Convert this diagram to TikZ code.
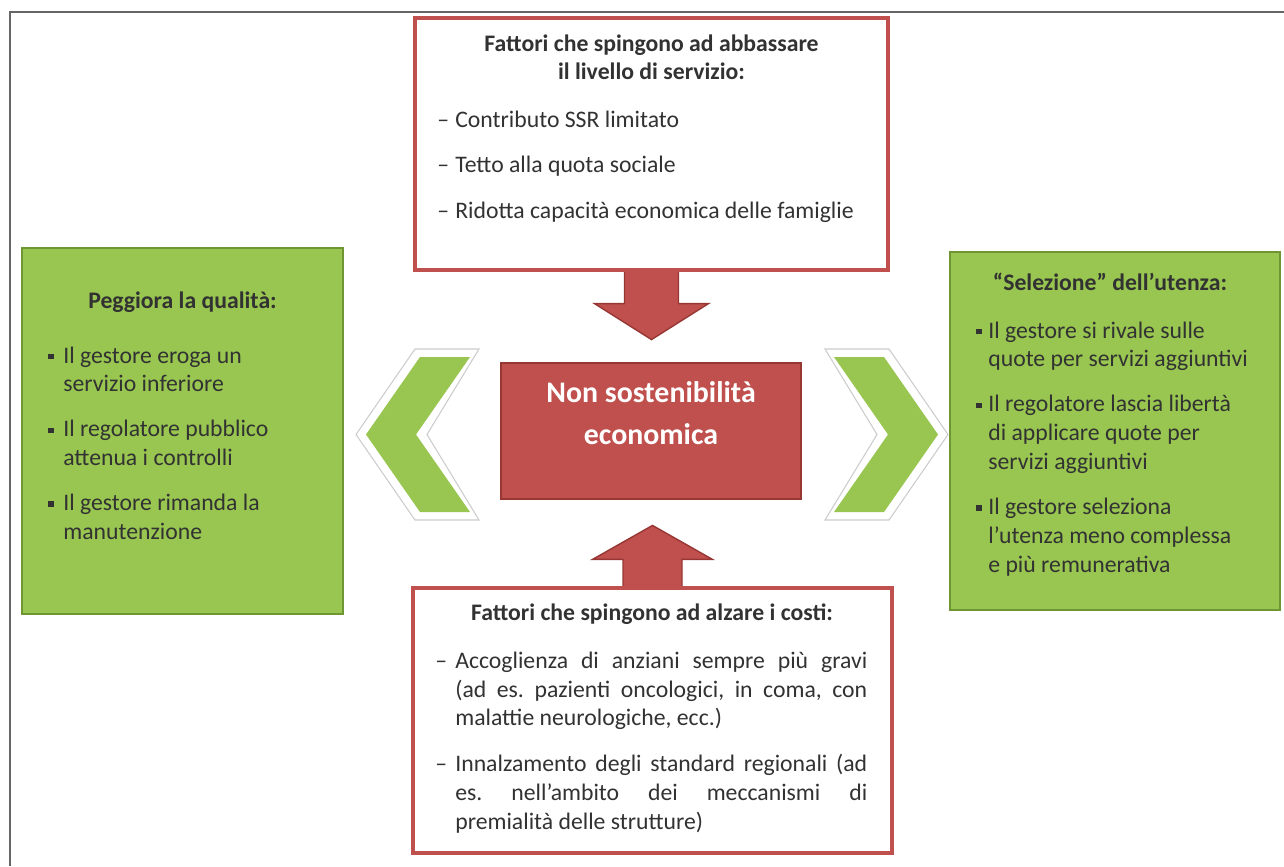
\documentclass[tikz,border=0pt]{standalone}
\usepackage{fontspec}
\setmainfont{Carlito}
\usetikzlibrary{positioning,calc,backgrounds}

\definecolor{rossobox}{RGB}{192,80,77}
\definecolor{rossobordo}{RGB}{150,55,52}
\definecolor{verdebox}{RGB}{152,198,80}
\definecolor{verdebordo}{RGB}{112,150,52}
\definecolor{scritta}{RGB}{50,50,50}

\newcommand{\corpo}{\fontsize{13.5}{16.5}\selectfont\frenchspacing}
\newcommand{\quadretto}{\raisebox{0.17em}{\rule{0.22em}{0.22em}}}
\def\px{0.02cm}

\tikzset{
	cornice/.style={draw=black!60, line width=0.8pt},
	boxrosso/.style={draw=rossobox, line width=1.8pt, fill=white, inner sep=0pt},
	boxverde/.style={draw=verdebordo, line width=1.4pt, fill=verdebox, inner sep=0pt},
	nucleo/.style={draw=rossobordo, line width=1.2pt, fill=rossobox, inner sep=0pt},
	freccia/.style={draw=rossobordo, line width=0.8pt, fill=rossobox, line join=miter},
	chevron/.style={fill=verdebox},
	bordino/.style={draw=black!20, line width=0.6pt, fill=white},
	scritto/.style={text=scritta, font=\corpo, inner sep=0pt},
	titolo/.style={scritto, font=\corpo\bfseries, anchor=base},
}

\begin{document}
\begin{tikzpicture}[x=0.02cm, y=-0.02cm]
	\useasboundingbox (0,0) rectangle (1284,866);
	\draw[cornice] (10,866) -- (10,12) -- (1284,12);
	
	% riquadri
	\node[boxrosso, minimum width=473*\px, minimum height=252*\px] (abbassare) at (651.5,144) {};
	\node[boxrosso, minimum width=479*\px, minimum height=265*\px] (costi) at (652.5,720.5) {};
	\node[boxverde, minimum width=321*\px, minimum height=366*\px] (qualita) at (182.5,431) {};
	\node[boxverde, minimum width=330*\px, minimum height=358*\px] (selezione) at (1115,431) {};
	\node[nucleo, minimum width=300*\px, minimum height=136*\px] (nonsost) at (651,431) {};
	
	% frecce verso il centro
	\coordinate (giu) at (abbassare.south);
	\coordinate (su) at (costi.north);
	\begin{scope}[on background layer]
		\draw[freccia] ($(giu)+(-27,0)$) -- ($(giu)+(-27,32)$) -- ($(giu)+(-57,32)$) -- ($(giu)+(0,68)$)
			-- ($(giu)+(57,32)$) -- ($(giu)+(27,32)$) -- ($(giu)+(27,0)$);
		\draw[freccia] ($(su)+(-29.5,0)$) -- ($(su)+(-29.5,-27)$) -- ($(su)+(-60,-27)$) -- ($(su)+(0,-61)$)
			-- ($(su)+(60,-27)$) -- ($(su)+(29.5,-27)$) -- ($(su)+(29.5,0)$);
	\end{scope}
	
	% chevron laterali
	\filldraw[bordino] (356,434.5) -- (415,349) -- (479,349) -- (427,434.5) -- (479,520) -- (415,520) -- cycle;
	\fill[chevron] (366,434.5) -- (420,357) -- (470,357) -- (416,434.5) -- (470,512) -- (420,512) -- cycle;
	\filldraw[bordino] (948,434.5) -- (889,349) -- (825,349) -- (877,434.5) -- (825,520) -- (889,520) -- cycle;
	\fill[chevron] (938,434.5) -- (884,357) -- (834,357) -- (888,434.5) -- (834,512) -- (884,512) -- cycle;
	
	% testi
	\node[titolo] (titAbb) at (651.5,51) {\begin{tabular}[t]{@{}c@{}}Fattori che spingono ad abbassare\\il livello di servizio:\end{tabular}};
	\node[scritto, anchor=base west] (vociAbb) at (437,127) {\begin{tabular}[t]{@{}p{0.36cm}@{}l@{}}
		–& Contributo SSR limitato\\[9.5pt]
		–& Tetto alla quota sociale\\[9.5pt]
		–& Ridotta capacità economica delle famiglie
	\end{tabular}};
	
	\node[font=\fontsize{17}{24}\selectfont\bfseries, text=white, inner sep=0pt, anchor=base] (titNon) at (651,402)
		{\begin{tabular}[t]{@{}c@{}}Non sostenibilità\\economica\end{tabular}};
	
	\node[titolo] (titQual) at (182.5,308) {Peggiora la qualità:};
	\node[scritto, anchor=base west] (vociQual) at (48,363) {\begin{tabular}[t]{@{}p{0.3cm}@{}l@{}}
		\quadretto& Il gestore eroga un\\
		& servizio inferiore\\[9pt]
		\quadretto& Il regolatore pubblico\\
		& attenua i controlli\\[9pt]
		\quadretto& Il gestore rimanda la\\
		& manutenzione
	\end{tabular}};
	
	\node[titolo] (titSel) at (1110,290) {“Selezione” dell’utenza:};
	\node[scritto, anchor=base west] (vociSel) at (976,338) {\begin{tabular}[t]{@{}p{0.24cm}@{}l@{}}
		\quadretto& Il gestore si rivale sulle\\
		& quote per servizi aggiuntivi\\[9pt]
		\quadretto& Il regolatore lascia libertà\\
		& di applicare quote per\\
		& servizi aggiuntivi\\[9pt]
		\quadretto& Il gestore seleziona\\
		& l’utenza meno complessa\\
		& e più remunerativa
	\end{tabular}};
	
	\node[titolo] (titCosti) at (652,620) {Fattori che spingono ad alzare i costi:};
	\node[scritto, font=\corpo\sloppy, anchor=base west] (vociCosti) at (435,668) {\begin{tabular}[t]{@{}p{0.4cm}@{}p{8.24cm}@{}}
		–& Accoglienza di anziani sempre più gravi\linebreak (ad es. pazienti oncologici, in coma, con\linebreak malattie neurologiche, ecc.)\\[9.5pt]
		–& Innalzamento degli standard regionali (ad\linebreak es. nell’ambito dei meccanismi di\linebreak premialità delle strutture)
	\end{tabular}};
\end{tikzpicture}
\end{document}
